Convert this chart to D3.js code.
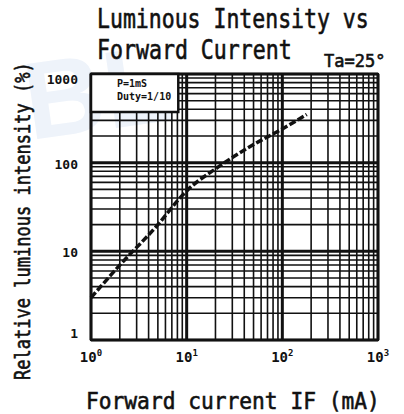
<!DOCTYPE html>
<html><head><meta charset="utf-8">
<script src="https://cdn.jsdelivr.net/npm/d3@7"></script>
<style>html,body{margin:0;padding:0;background:#fff;}svg{display:block;}</style>
</head><body>
<svg id="c" width="404" height="414"></svg>
<script>
const currentMA = [1, 2, 5, 8, 10, 20, 50, 100, 180];
const intensityPct = [3, 7, 20, 37, 48, 85, 160, 240, 350];
const xTickExp = [0, 1, 2, 3];
const yTickLabels = ["1", "10", "100", "1000"];
const yTickValues = [1, 10, 100, 1000];
const titleLines = ["Luminous Intensity vs", "Forward Current"];
const condText = "Ta=25°";
const legendLines = ["P=1mS", "Duty=1/10"];
const xLabel = "Forward current IF (mA)";
const yLabel = "Relative luminous intensity (%)";

const svg = d3.select("#c");
const font = "'DejaVu Sans Mono', monospace";
const L = 91, R = 378, T = 74, B = 340;
const x = d3.scaleLog().domain([1, 1000]).range([L, R]);
const y = d3.scaleLog().domain([1, 1000]).range([B, T]);

// faint watermark
svg.append("text").attr("x", 30).attr("y", 140).attr("font-family", "Liberation Sans")
  .attr("font-weight", "bold").attr("font-size", 110).attr("fill", "#eef3fa")
  .attr("transform", "rotate(-8,30,140)").text("BL");

const gridVals = [];
for (let e = 0; e < 3; e++) for (let k = 1; k <= 9; k++) gridVals.push(k * Math.pow(10, e));
gridVals.push(1000);

const g = svg.append("g");
g.selectAll("line.v").data(gridVals).join("line")
  .attr("x1", d => x(d)).attr("x2", d => x(d)).attr("y1", T).attr("y2", B)
  .attr("stroke", "#111").attr("stroke-width", d => (Math.log10(d) % 1 === 0) ? 3 : 1.6);
g.selectAll("line.h").data(gridVals).join("line")
  .attr("y1", d => y(d)).attr("y2", d => y(d)).attr("x1", L).attr("x2", R)
  .attr("stroke", "#111").attr("stroke-width", d => (Math.log10(d) % 1 === 0) ? 3 : 1.6);
svg.append("rect").attr("x", L).attr("y", T).attr("width", R - L).attr("height", B - T)
  .attr("fill", "none").attr("stroke", "#111").attr("stroke-width", 2.2);

// legend box
svg.append("rect").attr("x", L).attr("y", T).attr("width", x(9) - L - 4).attr("height", 38)
  .attr("fill", "#fff").attr("stroke", "#111").attr("stroke-width", 2.5);
svg.selectAll("text.leg").data(legendLines).join("text")
  .attr("x", 117).attr("y", (d, i) => 87 + i * 13)
  .attr("font-family", font).attr("font-size", 10).attr("font-weight", "bold")
  .attr("fill", "#111").text(d => d);

// curve
const line = d3.line().x((d, i) => x(currentMA[i])).y(d => y(d)).curve(d3.curveMonotoneX);
svg.append("path").datum(intensityPct).attr("d", line)
  .attr("fill", "none").attr("stroke", "#111").attr("stroke-width", 3.5)
  .attr("stroke-dasharray", "7,2.5");

// y tick labels
svg.selectAll("text.yt").data(yTickValues).join("text")
  .attr("x", 78).attr("y", (d, i) => y(d) + (i === 0 ? -2 : 6) + (i === 3 ? 4 : 0))
  .attr("text-anchor", "end").attr("font-family", font).attr("font-size", 13)
  .attr("font-weight", "bold").attr("fill", "#111").text((d, i) => yTickLabels[i]);

// x tick labels
const xt = svg.selectAll("text.xt").data(xTickExp).join("text")
  .attr("x", d => x(Math.pow(10, d))).attr("y", 362)
  .attr("text-anchor", "middle").attr("font-family", font).attr("font-size", 14)
  .attr("font-weight", "bold").attr("fill", "#111");
xt.append("tspan").text("10");
xt.append("tspan").attr("dy", -6).attr("font-size", 9).text(d => d);

// titles (condensed via transform)
const tstyle = s => s.attr("font-family", font).attr("fill", "#111").attr("stroke", "#111")
  .attr("stroke-width", 0.6);
tstyle(svg.append("text").attr("transform", "translate(97,28) scale(0.827,1)")
  .attr("font-size", 26)).text(titleLines[0]);
tstyle(svg.append("text").attr("transform", "translate(97,58.5) scale(0.83,1)")
  .attr("font-size", 26)).text(titleLines[1]);
tstyle(svg.append("text").attr("transform", "translate(324,67)")
  .attr("font-size", 17)).text(condText);

// axis labels
tstyle(svg.append("text").attr("transform", "translate(86,409) scale(0.923,1)")
  .attr("font-size", 23)).text(xLabel);
tstyle(svg.append("text").attr("transform", "translate(30,380) rotate(-90) scale(0.811,1)")
  .attr("font-size", 21)).text(yLabel);
</script>
</body></html>
